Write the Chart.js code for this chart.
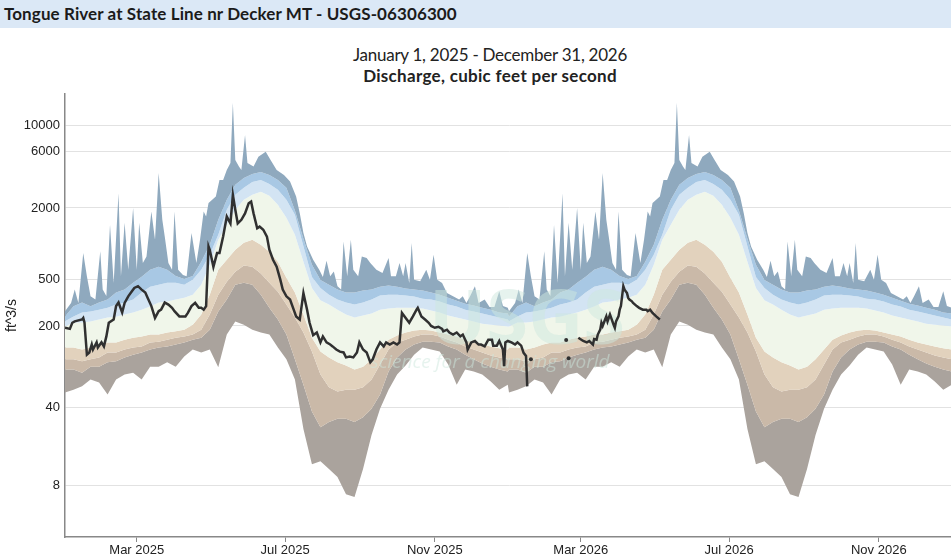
<!DOCTYPE html>
<html>
<head>
<meta charset="utf-8">
<title>Tongue River at State Line nr Decker MT</title>
<script src="https://cdn.jsdelivr.net/npm/chart.js@4.4.1/dist/chart.umd.min.js"></script>
<style>
  html, body { margin: 0; padding: 0; background: #fff; overflow: hidden; width: 951px; height: 560px; }
  #header { position: absolute; left: 0; top: 0; width: 951px; height: 28px; background: #dbe8f6;
            font-family: Lato, sans-serif; font-weight: bold; font-size: 17px; line-height: 28px;
            letter-spacing: 0.1px; padding-left: 4px; box-sizing: border-box; color: #1b1b1b; white-space: nowrap; }
  .ttl { position: absolute; left: 0; width: 980px; text-align: center; font-family: Lato, sans-serif;
         font-size: 17px; line-height: 20px; color: #222; }
  #t1 { top: 45px; letter-spacing: -0.25px; }
  #t2 { top: 66px; font-weight: bold; letter-spacing: 0.3px; }
  #wrap { position: absolute; left: 0; top: 28px; width: 980px; height: 540px; }
</style>
</head>
<body>
<div id="header">Tongue River at State Line nr Decker MT - USGS-06306300</div>
<div class="ttl" id="t1">January 1, 2025 - December 31, 2026</div>
<div class="ttl" id="t2">Discharge, cubic feet per second</div>
<div id="wrap"><canvas id="myChart"></canvas></div>
<script>
// day-of-year statistics (same for every year), ft^3/s
const statDay = [0, 7, 14, 21, 28, 35, 42, 49, 56, 63, 70, 77, 84, 91, 98, 105, 112, 119, 126, 133,
  140, 147, 154, 161, 168, 175, 182, 189, 196, 203, 210, 217, 224, 231, 238, 245, 252, 259, 266, 273,
  280, 287, 294, 301, 308, 315, 322, 329, 336, 343, 350, 357, 364];

// the daily max is spiky, so it gets its own days
const maxDay = [0, 5, 8, 11, 15, 18, 21, 25, 29, 31,
  34, 37, 40, 44, 46, 49, 52, 56, 59, 61,
  64, 67, 71, 74, 77, 80, 82, 85, 88, 90,
  93, 97, 100, 104, 108, 111, 114, 116, 118, 121,
  124, 127, 130, 133, 136, 138, 140, 143, 145, 148,
  150, 155, 159, 165, 169, 174, 180, 185, 190, 193,
  196, 199, 204, 209, 212, 215, 218, 221, 224, 227,
  229, 232, 235, 237, 241, 244, 248, 251, 256, 261,
  266, 268, 272, 275, 278, 280, 283, 285, 287, 292,
  297, 300, 303, 306, 310, 314, 319, 324, 327, 330,
  333, 337, 340, 345, 349, 353, 357, 360, 364];
const flowMax = [267, 314, 407, 314, 830, 527, 357, 335, 858, 407,
  360, 1441, 464, 2665, 527, 1498, 600, 2000, 600, 1498,
  685, 776, 1866, 1076, 3960, 1588, 1145, 685, 600, 1866,
  600, 540, 527, 1226, 685, 1076, 1866, 1690, 2197, 2343,
  2498, 3455, 3455, 4197, 4807, 15500, 5095, 4474, 4197, 8276,
  4807, 4474, 5430, 5990, 5095, 4197, 3806, 3343, 2498, 1800,
  1226, 945, 729, 600, 520, 713, 527, 580, 435, 407,
  1041, 527, 1076, 600, 527, 776, 754, 685, 600, 562,
  754, 527, 527, 685, 527, 685, 464, 1008, 494, 478,
  600, 494, 804, 494, 464, 380, 357, 335, 357, 314,
  357, 435, 314, 335, 290, 290, 394, 295, 286];
const flowP95 = [241, 294, 316, 294, 316, 335, 384, 407, 466, 524,
  600, 637, 600, 530, 500, 530, 702, 977, 1588, 2343,
  3135, 3591, 3882, 4036, 3806, 3455, 2957, 1900, 1100, 660,
  490, 448, 407, 384, 384, 399, 407, 431, 440, 431,
  415, 407, 399, 384, 369, 348, 328, 309, 298, 286,
  275, 260, 255];
const flowP90 = [219, 241, 260, 266, 275, 286, 304, 316, 335, 384,
  431, 448, 466, 466, 448, 494, 600, 804, 1186, 1929,
  2582, 2957, 3323, 3455, 3196, 2845, 2343, 1751, 950, 520,
  420, 369, 335, 316, 304, 316, 335, 362, 369, 369,
  362, 355, 341, 335, 322, 304, 292, 275, 265, 255,
  245, 236, 227];
const flowP75 = [198, 214, 214, 218, 227, 236, 240, 250, 260, 275,
  292, 316, 322, 335, 348, 369, 448, 662, 1076, 1441,
  1929, 2343, 2582, 2736, 2532, 2126, 1650, 1186, 700, 420,
  330, 304, 275, 250, 236, 245, 255, 275, 281, 286,
  286, 286, 281, 270, 260, 245, 236, 227, 218, 209,
  205, 202, 198];
const flowP25 = [131, 131, 126, 131, 139, 145, 145, 153, 159, 163,
  169, 169, 176, 180, 186, 205, 250, 369, 600, 729,
  886, 1015, 1076, 977, 852, 702, 514, 384, 250, 159,
  121, 108, 98, 92, 85, 90, 104, 126, 153, 166,
  176, 183, 186, 183, 176, 169, 163, 153, 145, 139,
  134, 129, 126];
const flowP10 = [104, 104, 100, 104, 108, 119, 119, 126, 131, 134,
  145, 147, 153, 159, 163, 169, 186, 250, 369, 475,
  578, 650, 637, 556, 466, 391, 304, 236, 176, 121,
  77, 60, 55, 57, 57, 60, 70, 94, 126, 145,
  153, 163, 169, 169, 163, 153, 145, 134, 126, 119,
  112, 108, 104];
const flowP05 = [85, 85, 80, 90, 90, 98, 100, 108, 114, 119,
  126, 131, 134, 139, 145, 153, 159, 186, 265, 335,
  448, 466, 448, 369, 286, 227, 169, 104, 63, 37,
  27, 30, 32, 32, 30, 33, 39, 52, 82, 108,
  126, 139, 147, 147, 145, 134, 126, 114, 104, 96,
  90, 85, 82];
const flowMin = [54, 57, 61, 70, 66, 52, 70, 77, 80, 70,
  90, 90, 98, 90, 110, 126, 119, 126, 89, 169,
  218, 205, 186, 176, 169, 131, 104, 70, 26, 12.6,
  13.4, 11.4, 9.6, 6.6, 6.2, 11.4, 23, 39, 57, 77,
  92, 114, 131, 126, 121, 94, 63, 85, 82, 77,
  67, 57, 63];

// measured daily discharge, days counted from 2025-01-01 (null = no data)
const obsDay = [0, 4, 6, 8, 14, 15, 16, 18, 20, 22,
  23, 26, 27, 30, 32, 34, 36, 40, 42, 44,
  47, 49, 52, 55, 57, 60, 63, 66, 68, 71,
  74, 77, 79, 82, 85, 88, 90, 94, 99, 101,
  104, 107, 110, 112, 114, 116, 118, 119, 122, 125,
  127, 130, 133, 136, 138, 140, 142, 145, 148, 151,
  153, 155, 158, 160, 163, 166, 168, 171, 174, 177,
  179, 182, 185, 188, 190, 193, 196, 199, 201, 204,
  207, 210, 212, 215, 218, 220, 223, 226, 229, 231,
  234, 237, 240, 242, 245, 248, 251, 253, 256, 259,
  262, 264, 267, 270, 273, 275, 277, 281, 283, 286,
  289, 290, 293, 296, 299, 301, 304, 307, 310, 311,
  314, 316, 319, 322, 325, 327, 330, 331, 334, 337,
  340, 342, 345, 348, 351, 352, 355, 357, 360, 361,
  362, 364, 367, 370, 372, 375, 377, 379, 380, 381,
  383, 384, 412, 413, 414, 415, 422, 426, 429, 431,
  434, 435, 437, 438, 440, 441, 442, 444, 445, 446,
  448, 449, 451, 452, 453, 455, 456, 457, 459, 460,
  462, 463, 464, 466, 467, 470, 472, 475, 478, 479,
  481, 483, 486, 489];
const obsFlow = [193, 189, 213, 219, 227, 234, 214, 114, 119, 139,
  126, 145, 131, 145, 134, 163, 213, 227, 295, 316,
  260, 314, 357, 394, 420, 435, 407, 384, 346, 295,
  234, 267, 275, 316, 304, 285, 267, 241, 241, 258,
  295, 314, 285, 285, 275, 295, 945, 886, 635, 830,
  830, 1145, 1690, 1480, 2582, 1929, 1480, 1588, 1800, 2190,
  2260, 1800, 1345, 1390, 1308, 1145, 886, 729, 637, 494,
  407, 357, 335, 275, 241, 227, 380, 275, 214, 167,
  176, 145, 163, 145, 139, 134, 126, 121, 119, 108,
  110, 108, 119, 145, 126, 119, 98, 104, 126, 145,
  134, 145, 139, 145, 139, 145, 258, 227, 213, 241,
  275, 285, 241, 227, 213, 200, 193, 197, 189, 180,
  186, 176, 169, 176, 163, 169, 145, 126, 145, 149,
  139, 139, 134, 153, 153, 136, 136, 149, 126, 91,
  145, 149, 145, 139, 145, 136, 118, 111, 61, null,
  104, null, 152, null, 106, null, 159, 149, 145, 149,
  139, 155, 153, 169, 186, 213, 200, 227, 241, 219,
  250, 234, 205, 193, 219, 241, 275, 295, 435, 407,
  380, 346, 335, 324, 314, 295, 285, 275, 275, 267,
  275, 258, 241, 227];

const yTickValues = [8, 40, 200, 500, 2000, 6000, 10000];
const yRange = [2.3, 18400];
const xTickDays = [59, 181, 304, 424, 546, 669];
const monthNames = ['Jan', 'Feb', 'Mar', 'Apr', 'May', 'Jun', 'Jul', 'Aug', 'Sep', 'Oct', 'Nov', 'Dec'];

// axis is log10(Q + 1), like the USGS graph
function toAxis(v) {
  return v == null ? null : Math.log10(v + 1);
}

// repeat the day-of-year stats for 2025 and 2026
function twoYears(days, values) {
  const pts = [];
  [0, 365].forEach(off => {
    days.forEach((d, i) => pts.push({ x: d + off, y: toAxis(values[i]) }));
  });
  return pts;
}

const bands = [
  { label: 'Max', days: maxDay, values: flowMax, color: '#8fa9be' },
  { label: '95th percentile', days: statDay, values: flowP95, color: '#a8c8e4' },
  { label: '90th percentile', days: statDay, values: flowP90, color: '#d3e4f3' },
  { label: '75th percentile', days: statDay, values: flowP75, color: '#f0f6ea' },
  { label: '25th percentile', days: statDay, values: flowP25, color: '#e2d2bd' },
  { label: '10th percentile', days: statDay, values: flowP10, color: '#cab9a8' },
  { label: '5th percentile', days: statDay, values: flowP05, color: '#aaa39d' },
  { label: 'Min', days: statDay, values: flowMin, color: null }
];

const obsPoints = obsDay.map((d, i) => ({ x: d, y: toAxis(obsFlow[i]) }));

const datasets = [{
  label: 'Discharge',
  data: obsPoints,
  borderColor: '#303030',
  backgroundColor: '#303030',
  borderWidth: 2.5,
  fill: false,
  spanGaps: false,
  pointRadius: function(ctx) {
    const data = ctx.dataset.data;
    const i = ctx.dataIndex;
    if (data[i].y == null) return 0;
    const prev = data[i - 1], next = data[i + 1];
    return (!prev || prev.y == null) && (!next || next.y == null) ? 2 : 0;
  },
  pointBorderWidth: 0
}];

bands.forEach(b => {
  datasets.push({
    label: b.label,
    data: twoYears(b.days, b.values),
    borderWidth: 0,
    pointRadius: 0,
    backgroundColor: b.color || 'transparent',
    fill: b.color ? '+1' : false
  });
});

// faint logo over the bands, under the discharge line
const watermark = {
  id: 'watermark',
  beforeDatasetDraw(chart, args) {
    if (args.index !== 0) return;
    const ctx = chart.ctx;
    ctx.save();
    ctx.fillStyle = 'rgba(205, 232, 222, 0.5)';
    ctx.textAlign = 'center';
    ctx.font = 'bold 76px "Open Sans"';
    ctx.fillText('USGS', 527, 316);
    ctx.font = 'italic 19px "Open Sans"';
    ctx.fillText('science for a changing world', 490, 340);
    ctx.restore();
  }
};

const ctx = document.getElementById('myChart').getContext('2d');
const myChart = new Chart(ctx, {
  type: 'line',
  data: { datasets: datasets },
  options: {
    responsive: true,
    maintainAspectRatio: false,
    animation: false,
    layout: { padding: { top: 66, right: 27, left: 0, bottom: 0 } },
    plugins: {
      legend: { display: false },
      tooltip: { enabled: false }
    },
    scales: {
      x: {
        type: 'linear',
        min: 0,
        max: 730,
        afterBuildTicks: function(scale) {
          scale.ticks = xTickDays.map(d => ({ value: d }));
        },
        afterFit: function(scale) { scale.height = 31; },
        ticks: {
          autoSkip: false,
          maxRotation: 0,
          padding: 1,
          color: '#222',
          font: { family: 'Liberation Sans', size: 13 },
          callback: function(value) {
            const dt = new Date(2025, 0, 1 + value);
            return monthNames[dt.getMonth()] + ' ' + dt.getFullYear();
          }
        },
        grid: { display: true, drawOnChartArea: false, drawTicks: true, tickLength: 5, color: '#888' },
        border: { display: true, color: '#888', width: 1.5 }
      },
      y: {
        type: 'linear',
        min: toAxis(yRange[0]),
        max: toAxis(yRange[1]),
        afterBuildTicks: function(scale) {
          scale.ticks = yTickValues.map(v => ({ value: toAxis(v) }));
        },
        afterFit: function(scale) { scale.width = 65; },
        ticks: {
          padding: 5,
          color: '#222',
          font: { family: 'Liberation Sans', size: 13 },
          callback: function(value) {
            return String(Math.round(Math.pow(10, value) - 1));
          }
        },
        grid: { color: '#e2e2e2', lineWidth: 1, drawTicks: false },
        border: { display: true, color: '#888', width: 1.5 },
        title: {
          display: true,
          text: 'ft^3/s',
          color: '#222',
          font: { family: 'Liberation Sans', size: 14 },
          padding: { top: 4, bottom: 2 }
        }
      }
    }
  },
  plugins: [watermark]
});
</script>
</body>
</html>
